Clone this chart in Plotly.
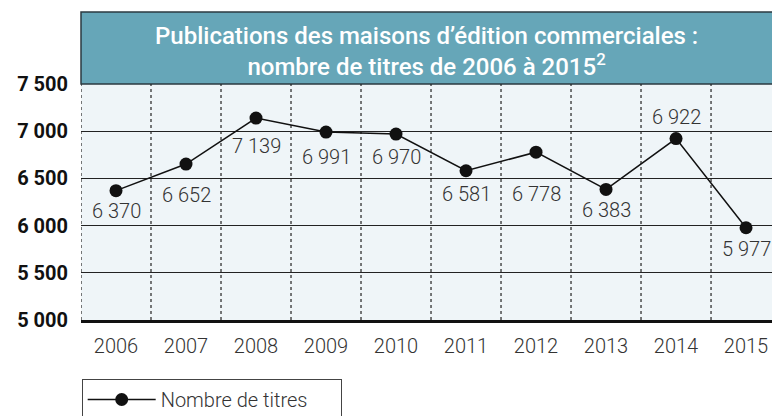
import plotly.graph_objects as go

years = ["2006", "2007", "2008", "2009", "2010", "2011", "2012", "2013", "2014", "2015"]
titres = [6370, 6652, 7139, 6991, 6970, 6581, 6778, 6383, 6922, 5977]
y_ticks = [5000, 5500, 6000, 6500, 7000, 7500]
y_ticktext = ["5 000", "5 500", "6 000", "6 500", "7 000", "7 500"]
# vertical pixel offset of each value label from its point (style)
label_shift = [-20, -31, -28, -25, -23, -23, -42, -21, 22, -21]

def fmt(v):
    return f"{v:,}".replace(",", " ")

xs = list(range(len(years)))
FONT = "Roboto"

fig = go.Figure()
fig.add_trace(go.Scatter(
    x=xs, y=titres, mode="lines+markers",
    name="Nombre de titres",
    line=dict(color="#111111", width=1.5),
    marker=dict(color="#111111", size=13),
    cliponaxis=False,
))

annotations = []
for x, v, s in zip(xs, titres, label_shift):
    annotations.append(dict(x=x, y=v, xref="x", yref="y", text=fmt(v), showarrow=False,
                            yshift=s, xanchor="center", yanchor="middle",
                            font=dict(family=FONT, size=20, color="#333333", weight=300)))
annotations.append(dict(
    text="Publications des maisons d\u2019édition commerciales :<br>nombre de titres de 2006 à 2015<sup>2</sup>",
    xref="paper", yref="paper", x=0.5, y=1.137, xanchor="center", yanchor="middle",
    showarrow=False, font=dict(family=FONT, size=24, color="white", weight=500)))

shapes = []
# title box
shapes.append(dict(type="rect", xref="paper", yref="paper", x0=0, x1=1.02, y0=1.0, y1=1.305,
                   fillcolor="#66a6b8", line=dict(color="#2b3a40", width=1.5), layer="below"))
# vertical dotted separators
for i in range(len(years)):
    shapes.append(dict(type="line", xref="x", yref="paper", x0=i - 0.5, x1=i - 0.5, y0=0, y1=1,
                       line=dict(color="#222222", width=1.2, dash="dot"), layer="below"))

fig.update_layout(
    width=772, height=416,
    margin=dict(l=81, r=0, t=84, b=96, autoexpand=False),
    paper_bgcolor="white", plot_bgcolor="#eff5f8",
    font=dict(family=FONT, color="#222222"),
    shapes=shapes,
    annotations=annotations,
    xaxis=dict(range=[-0.5, 9.371], tickvals=xs, ticktext=years, showgrid=False, zeroline=False,
               showline=True, linecolor="#111111", linewidth=3, automargin=False,
               ticklabelstandoff=6,
               tickfont=dict(family=FONT, size=20, color="#333333", weight=300), ticks=""),
    yaxis=dict(range=[5000, 7500], tickvals=y_ticks, ticktext=y_ticktext, showgrid=True,
               gridcolor="#222222", gridwidth=1.3, zeroline=False, showline=False, ticks="",
               automargin=False,
               tickfont=dict(family=FONT, size=20, color="#111111", weight=700), ticklabelstandoff=12),
    showlegend=True,
    legend=dict(x=0.001, y=-0.25, xanchor="left", yanchor="top", orientation="h",
                bordercolor="#444444", borderwidth=1, bgcolor="white",
                font=dict(family=FONT, size=20, color="#333333", weight=300),
                entrywidth=175, itemwidth=68),
)
fig.write_html("out.html", config={"displayModeBar": False},
               post_script="document.body.style.margin='0';document.body.style.overflow='hidden';")
